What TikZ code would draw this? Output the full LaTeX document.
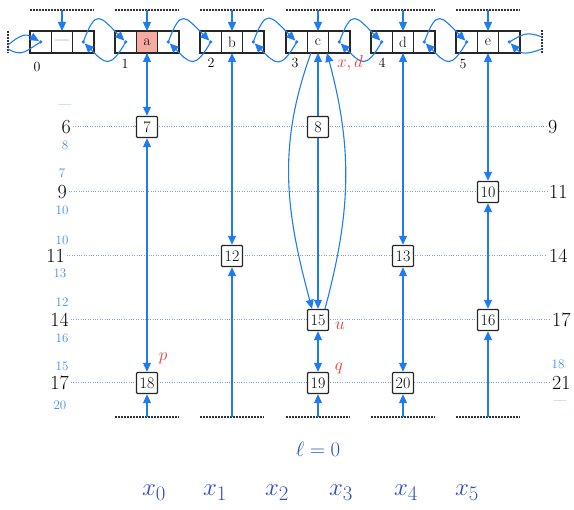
\documentclass[tikz,border=0pt]{standalone}
\usepackage{xcolor}
\usepackage{amsmath}
\usepackage{tikz}
\usetikzlibrary{positioning,arrows.meta}
\definecolor{LinkBlue}{HTML}{1F7CF0}
\definecolor{RowBlue}{HTML}{7E9CE9}
\definecolor{TagBlue}{HTML}{3F8CF2}
\definecolor{InkBlue}{HTML}{2A4CC4}
\definecolor{InkRed}{HTML}{EE3B3B}
\definecolor{KeyRed}{HTML}{F5ABA2}
\tikzset{
  cellnode/.style={
    draw=black!85,line width=1.2pt,
    minimum width=21.3pt,minimum height=22pt,inner sep=0pt,outer sep=0pt,
    font=\fontsize{15}{17}\selectfont
  },
  keynode/.style={
    draw=black!85,fill=white,line width=1.4pt,rounded corners=1pt,
    minimum size=21pt,inner sep=0pt,
    font=\fontsize{16}{18}\selectfont
  },
  link/.style={draw=LinkBlue,line width=1.1pt,>={Triangle[length=9pt,width=8pt]}},
  rowline/.style={draw=RowBlue,line width=1pt,dash pattern=on 1pt off 1.4pt},
  barline/.style={draw=black!80,line width=1.3pt,dash pattern=on 2pt off 1pt},
  lvlnode/.style={font=\fontsize{20}{22}\selectfont,inner sep=2pt},
  tagnode/.style={font=\fontsize{13}{15}\selectfont,text=TagBlue,inner sep=1pt},
  idxnode/.style={font=\fontsize{14}{16}\selectfont,inner sep=1pt},
  rednode/.style={font=\fontsize{18}{20}\selectfont,text=InkRed,inner sep=1pt},
  inknode/.style={font=\fontsize{32}{34}\selectfont,text=InkBlue,inner sep=1pt},
}

\begin{document}
\begin{tikzpicture}[x=1pt,y=-1pt,node distance=0pt]
  \useasboundingbox (0,0) rectangle (574,510);
  \node[cellnode] (m0) at (62,42) {---};
  \node[cellnode,left=of m0] (l0) {};
  \node[cellnode,right=of m0] (r0) {};
  \node[cellnode,fill=KeyRed] (m1) at (147,42) {a};
  \node[cellnode,left=of m1] (l1) {};
  \node[cellnode,right=of m1] (r1) {};
  \node[cellnode] (m2) at (232,42) {b};
  \node[cellnode,left=of m2] (l2) {};
  \node[cellnode,right=of m2] (r2) {};
  \node[cellnode] (m3) at (318,42) {c};
  \node[cellnode,left=of m3] (l3) {};
  \node[cellnode,right=of m3] (r3) {};
  \node[cellnode] (m4) at (403,42) {d};
  \node[cellnode,left=of m4] (l4) {};
  \node[cellnode,right=of m4] (r4) {};
  \node[cellnode] (m5) at (488,42) {e};
  \node[cellnode,left=of m5] (l5) {};
  \node[cellnode,right=of m5] (r5) {};
  \node[idxnode] (n0) at (37,67) {0};
  \node[idxnode] (n1) at (125,64) {1};
  \node[idxnode] (n2) at (211,63) {2};
  \node[idxnode] (n3) at (295,63) {3};
  \node[idxnode] (n4) at (382,63) {4};
  \node[idxnode] (n5) at (463,64) {5};
  \fill[LinkBlue] (l0.center) circle (1.8pt) (r0.center) circle (1.8pt);
  \fill[LinkBlue] (l1.center) circle (1.8pt) (r1.center) circle (1.8pt);
  \fill[LinkBlue] (l2.center) circle (1.8pt) (r2.center) circle (1.8pt);
  \fill[LinkBlue] (l3.center) circle (1.8pt) (r3.center) circle (1.8pt);
  \fill[LinkBlue] (l4.center) circle (1.8pt) (r4.center) circle (1.8pt);
  \fill[LinkBlue] (l5.center) circle (1.8pt) (r5.center) circle (1.8pt);
  \coordinate (wl) at (8,42);
  \coordinate (wr) at (542,42);
  \draw[barline] ([yshift=11pt]wl) -- ([yshift=-11pt]wl);
  \draw[barline] ([yshift=12pt]wr) -- ([yshift=-11pt]wr);
  \draw[link,->,shorten >=2pt] ([yshift=-3pt]wl) to[out=40,in=150,looseness=1.3] (l0.center);
  \draw[link] (l0.center) to[out=-150,in=-30,looseness=1.3] ([yshift=-7pt]wl);
  \draw[link,->,shorten >=2pt] (r0.center) to[out=70,in=135,looseness=2.2] (l1.center);
  \draw[link,->,shorten >=2pt] (l1.center) to[out=-120,in=-45,looseness=1.9] (r0.center);
  \draw[link,->,shorten >=2pt] (r1.center) to[out=70,in=135,looseness=2.2] (l2.center);
  \draw[link,->,shorten >=2pt] (l2.center) to[out=-120,in=-45,looseness=1.9] (r1.center);
  \draw[link,->,shorten >=2pt] (r2.center) to[out=70,in=135,looseness=2.2] (l3.center);
  \draw[link,->,shorten >=2pt] (l3.center) to[out=-120,in=-45,looseness=1.9] (r2.center);
  \draw[link,->,shorten >=2pt] (r3.center) to[out=70,in=135,looseness=2.2] (l4.center);
  \draw[link,->,shorten >=2pt] (l4.center) to[out=-120,in=-45,looseness=1.9] (r3.center);
  \draw[link,->,shorten >=2pt] (r4.center) to[out=70,in=135,looseness=2.2] (l5.center);
  \draw[link,->,shorten >=2pt] (l5.center) to[out=-120,in=-45,looseness=1.9] (r4.center);
  \draw[link] (r5.center) to[out=30,in=160,looseness=1.3] ([yshift=5pt]wr);
  \draw[link,->,shorten >=2pt] ([yshift=-7pt]wr) to[out=-160,in=-45,looseness=1.3] (r5.center);
  \coordinate (h0) at (62,10);
  \coordinate (h1) at (147,10);
  \coordinate (h2) at (232,10);
  \coordinate (h3) at (318,10);
  \coordinate (h4) at (403,10);
  \coordinate (h5) at (488,10);
  \draw[barline] ([xshift=-32pt]h0) -- ([xshift=32pt]h0);
  \draw[barline] ([xshift=-32pt]h1) -- ([xshift=32pt]h1);
  \draw[barline] ([xshift=-32pt]h2) -- ([xshift=32pt]h2);
  \draw[barline] ([xshift=-32pt]h3) -- ([xshift=32pt]h3);
  \draw[barline] ([xshift=-32pt]h4) -- ([xshift=32pt]h4);
  \draw[barline] ([xshift=-32pt]h5) -- ([xshift=32pt]h5);
  \draw[link,->] (h0) -- (m0);
  \draw[link,->] (h1) -- (m1);
  \draw[link,->] (h2) -- (m2);
  \draw[link,->] (h3) -- (m3);
  \draw[link,->] (h4) -- (m4);
  \draw[link,->] (h5) -- (m5);
  \node[lvlnode,anchor=east] (lv6) at (73,127) {6};
  \node[lvlnode,anchor=east] (lv9) at (69,192) {9};
  \node[lvlnode,anchor=east] (lv11) at (67,256) {11};
  \node[lvlnode,anchor=east] (lv14) at (71,320) {14};
  \node[lvlnode,anchor=east] (lv17) at (71,383) {17};
  \node[lvlnode,anchor=west] (rv9) at (546,127) {9};
  \node[lvlnode,anchor=west] (rv11) at (547,192) {11};
  \node[lvlnode,anchor=west] (rv14) at (547,256) {14};
  \node[lvlnode,anchor=west] (rv17) at (550,320) {17};
  \node[lvlnode,anchor=west] (rv21) at (550,383) {21};
  \draw[rowline] (lv6) -- (rv9);
  \draw[rowline] (lv9) -- (rv11);
  \draw[rowline] (lv11) -- (rv14);
  \draw[rowline] (lv14) -- (rv17);
  \draw[rowline] (lv17) -- (rv21);
  \node[tagnode] (t6a) at (65,107) {---};
  \node[tagnode] (t6b) at (65,145) {8};
  \node[tagnode] (t9a) at (62,173) {7};
  \node[tagnode] (t9b) at (62,210) {10};
  \node[tagnode] (t11a) at (62,240) {10};
  \node[tagnode] (t11b) at (60,273) {13};
  \node[tagnode] (t14a) at (62,302) {12};
  \node[tagnode] (t14b) at (62,338) {16};
  \node[tagnode] (t17a) at (62,366) {15};
  \node[tagnode] (t17b) at (60,405) {20};
  \node[tagnode] (t21a) at (558,364) {18};
  \node[tagnode] (t21b) at (560,403) {---};
  \node[keynode] (k7) at (147,127) {7};
  \node[keynode] (k8) at (318,127) {8};
  \node[keynode] (k10) at (488,192) {10};
  \node[keynode] (k12) at (232,256) {12};
  \node[keynode] (k13) at (403,256) {13};
  \node[keynode] (k15) at (318,320) {15};
  \node[keynode] (k16) at (488,320) {16};
  \node[keynode] (k18) at (147,383) {18};
  \node[keynode] (k19) at (318,383) {19};
  \node[keynode] (k20) at (403,383) {20};
  \coordinate (f1) at (147,417);
  \coordinate (f2) at (232,417);
  \coordinate (f3) at (318,417);
  \coordinate (f4) at (403,417);
  \coordinate (f5) at (488,417);
  \draw[barline] ([xshift=-32pt]f1) -- ([xshift=32pt]f1);
  \draw[barline] ([xshift=-32pt]f2) -- ([xshift=32pt]f2);
  \draw[barline] ([xshift=-32pt]f3) -- ([xshift=32pt]f3);
  \draw[barline] ([xshift=-32pt]f4) -- ([xshift=32pt]f4);
  \draw[barline] ([xshift=-32pt]f5) -- ([xshift=32pt]f5);
  \draw[link,<->] (m1) -- (k7);
  \draw[link,<->] (k7) -- (k18);
  \draw[link,->] (f1) -- (k18);
  \draw[link,<->] (m2) -- (k12);
  \draw[link,->] (f2) -- (k12);
  \draw[link,->] (k8) -- (m3);
  \draw[link,->] (k8) -- (k15);
  \draw[link,->] ([xshift=-7pt]m3.south) to[out=-110,in=105] ([xshift=-6pt]k15.north);
  \draw[link,->] ([xshift=7pt]k15.north) to[out=75,in=-75] ([xshift=9pt]m3.south);
  \draw[link,<->] (k15) -- (k19);
  \draw[link,->] (f3) -- (k19);
  \draw[link,<->] (m4) -- (k13);
  \draw[link,<->] (k13) -- (k20);
  \draw[link,->] (f4) -- (k20);
  \draw[link,<->] (m5) -- (k10);
  \draw[link,<->] (k10) -- (k16);
  \draw[link,->] (f5) -- (k16);
  \node[rednode] (xd) at (350,63) {$x,d$};
  \node[rednode] (pp) at (163,358) {$p$};
  \node[rednode] (uu) at (340,326) {$u$};
  \node[rednode] (qq) at (339,368) {$q$};
  \node[inknode,font=\fontsize{22}{24}\selectfont] (lvl) at (318,449) {$\ell=0$};
  \node[inknode] (x0) at (154,493) {$x_0$};
  \node[inknode] (x1) at (215,493) {$x_1$};
  \node[inknode] (x2) at (277,493) {$x_2$};
  \node[inknode] (x3) at (341,493) {$x_3$};
  \node[inknode] (x4) at (406,493) {$x_4$};
  \node[inknode] (x5) at (467,493) {$x_5$};
\end{tikzpicture}
\end{document}
